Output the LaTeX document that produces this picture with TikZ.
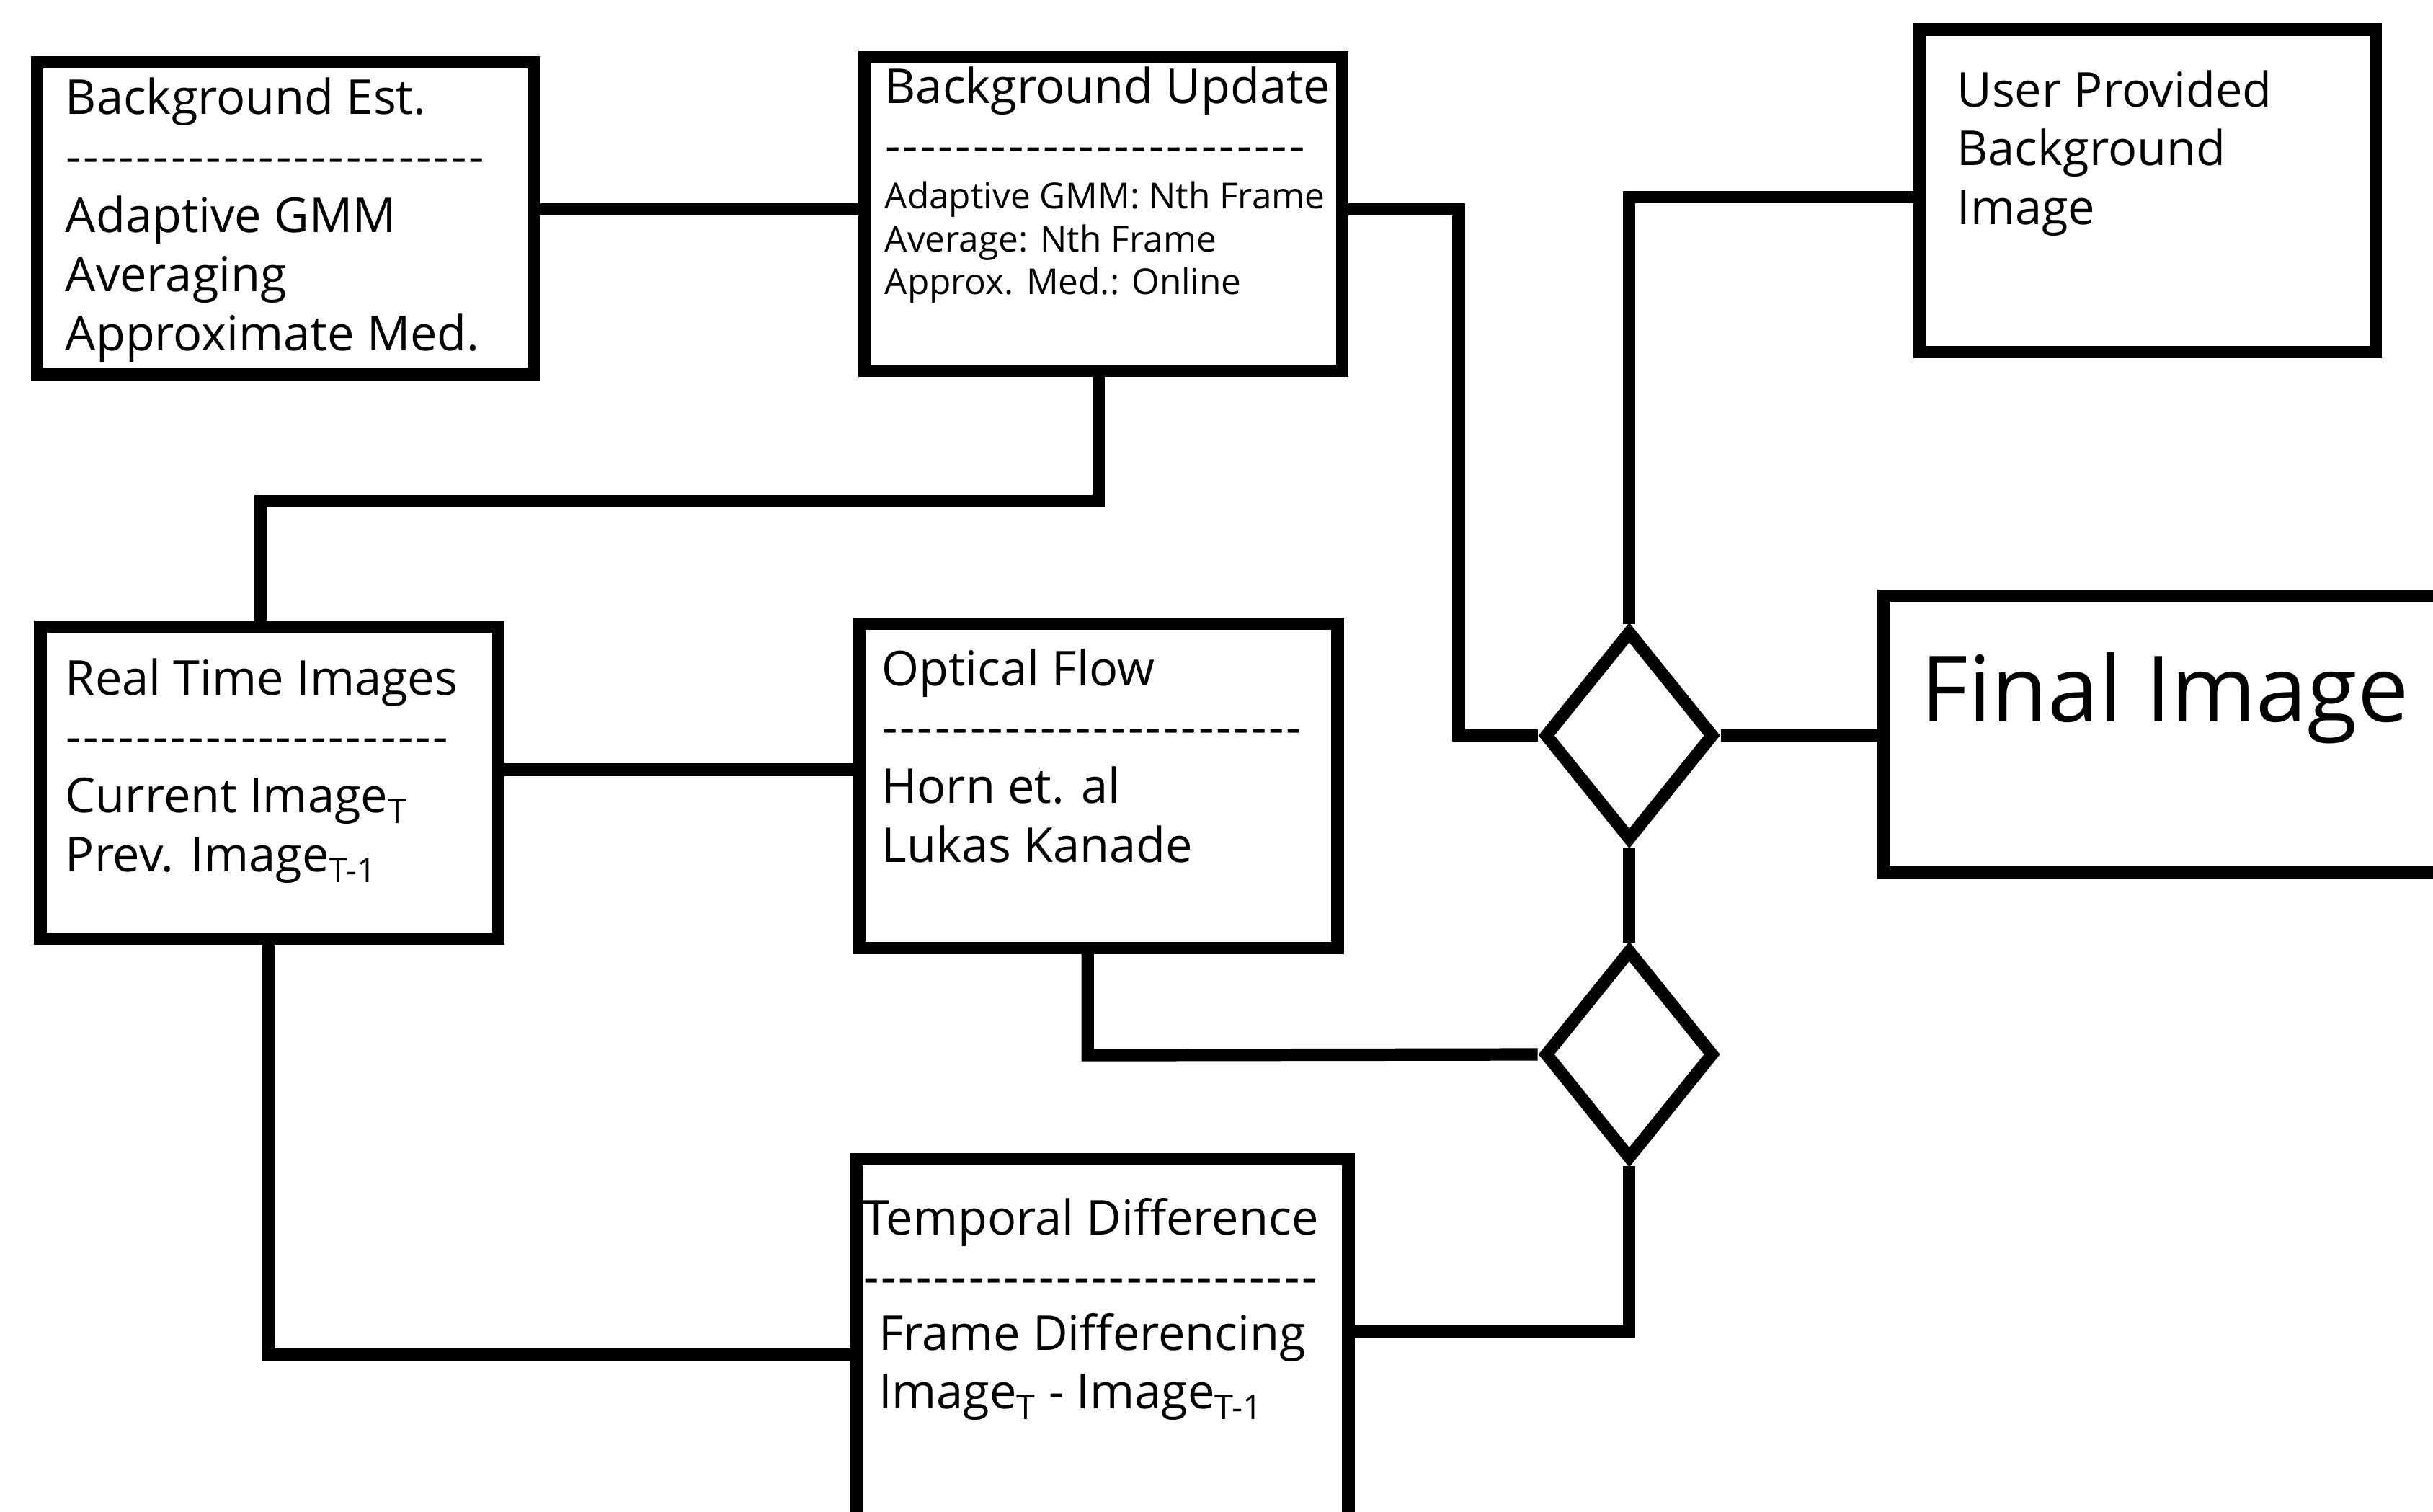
\documentclass[tikz,border=0pt]{standalone}
\usepackage{fontspec}
\setmainfont{Open Sans}
\usetikzlibrary{shapes.geometric,positioning}

\newcommand{\dashrow}[1]{\makebox[#1pt][l]{\xleaders\hbox{-\kern1pt}\hfill}}

\tikzset{
  blk/.style={draw, rectangle, line width=8pt, inner sep=0pt},
  merge/.style={draw, diamond, line width=8pt, inner sep=0pt, minimum width=110pt, minimum height=136pt},
  wire/.style={line width=8pt},
  bigtxt/.style={font=\fontsize{31}{38}\selectfont, align=left, inner sep=0pt, anchor=north west},
  smalltxt/.style={font=\fontsize{23}{27.5}\selectfont, align=left, inner sep=0pt, anchor=north west},
}

\begin{document}
\begin{tikzpicture}[x=1pt,y=-1pt]
\path[use as bounding box, clip] (0,0) rectangle (1568,974);

% boxes
\node[blk, minimum width=320pt, minimum height=201pt] (bgest) at (184,140.5) {};
\node[blk, minimum width=308pt, minimum height=202pt] (bgupd) at (711,138) {};
\node[blk, minimum width=294pt, minimum height=208pt] (user) at (1384,123) {};
\node[blk, minimum width=295pt, minimum height=201pt] (rtimg) at (173.5,504.5) {};
\node[blk, minimum width=308pt, minimum height=209pt] (optflow) at (708,506.5) {};
\node[blk, minimum width=426pt, minimum height=178pt] (final) at (1427,473) {};
\node[blk, minimum width=317pt, minimum height=303pt] (tempdiff) at (710.5,898.5) {};
\node[merge] (d1) at (1050,474) {};
\node[merge] (d2) at (1050,679.5) {};

% texts
\node[bigtxt] (bgesttxt) at (42,50) {Background Est.\\ \dashrow{271}\\ Adaptive GMM\\ Averaging\\ Approximate Med.};
\node[bigtxt] (bgupdtxt) at (570,43) {Background Update\\ \dashrow{272}};
\node[smalltxt] (bgupditems) at (570,117) {Adaptive GMM: Nth Frame\\ Average: Nth Frame\\ Approx. Med.: Online};
\node[bigtxt] (usertxt) at (1261,45) {User Provided\\ Background\\ Image};
\node[bigtxt] (rtimgtxt) at (42,424) {Real Time Images\\ \dashrow{248}\\ Current Image\textsubscript{T}\\ Prev. Image\textsubscript{T-1}};
\node[bigtxt] (optflowtxt) at (568,418) {Optical Flow\\ \dashrow{272}\\ Horn et. al\\ Lukas Kanade};
\node[font=\fontsize{59}{64}\selectfont, inner sep=0pt, anchor=north west] (finaltxt) at (1238,420) {Final Image};
\node[bigtxt] (tempdifftxt) at (556,772) {Temporal Difference\\ \dashrow{294}};
\node[bigtxt] (tempdiffitems) at (566,846) {Frame Differencing\\ Image\textsubscript{T} - Image\textsubscript{T-1}};

% connectors
\draw[wire] (bgest.east |- 0,135) -- (bgupd.west |- 0,135);
\draw[wire] (bgupd.east |- 0,135) -- (940,135) -- (940,474) -- (d1.west);
\draw[wire] (user.west |- 0,127) -- (1050,127) -- (d1.north);
\draw[wire] (d1.east) -- (d1.east -| final.west);
\draw[wire] (d1.south) -- (d2.north);
\draw[wire] (bgupd.south -| 708,0) -- (708,323) -- (168,323) -- (rtimg.north -| 168,0);
\draw[wire] (rtimg.east |- 0,496) -- (optflow.west |- 0,496);
\draw[wire] (optflow.south -| 701,0) -- (701,680) -- (d2.west);
\draw[wire] (rtimg.south -| 173,0) -- (173,873) -- (tempdiff.west |- 0,873);
\draw[wire] (tempdiff.east |- 0,858) -- (d2.south |- 0,858) -- (d2.south);
\end{tikzpicture}
\end{document}
